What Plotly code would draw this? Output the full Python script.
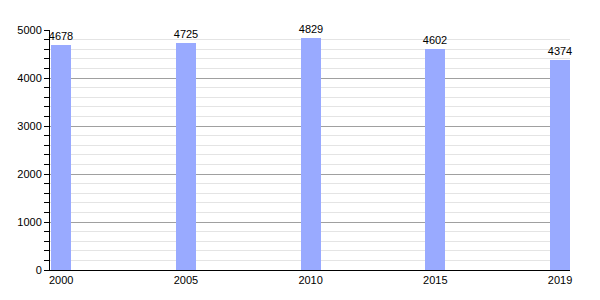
import plotly.graph_objects as go

years = ["2000", "2005", "2010", "2015", "2019"]
population = [4678, 4725, 4829, 4602, 4374]

fig = go.Figure(go.Bar(
    x=years, y=population,
    marker=dict(color="#99aaff", line=dict(width=0)),
    width=0.16,
    text=[str(v) for v in population],
    textposition="outside",
    constraintext="none",
    textfont=dict(family="Liberation Sans, Arial", size=11, color="#000"),
    cliponaxis=False,
))

fig.update_layout(
    width=600, height=300,
    margin=dict(l=50, r=30, t=30, b=30),
    paper_bgcolor="white", plot_bgcolor="white",
    font=dict(family="Liberation Sans, Arial", size=11, color="#000"),
    showlegend=False,
    bargap=0,
    uniformtext=dict(mode=False),
)
fig.update_xaxes(
    type="category", range=[-0.09, 4.08],
    showline=True, linecolor="#000", linewidth=1,
    ticks="", showgrid=False, tickfont=dict(size=11),
)
fig.update_yaxes(
    range=[0, 5000], dtick=1000,
    showline=True, linecolor="#000", linewidth=1,
    ticks="outside", ticklen=5, tickcolor="#000",
    gridcolor="#a0a0a0", gridwidth=1,
    zeroline=False,
    minor=dict(dtick=200, showgrid=True, gridcolor="#e4e4e4",
               ticks="outside", ticklen=5, tickcolor="#000"),
    tickfont=dict(size=11),
)

fig.write_html("out.html")
